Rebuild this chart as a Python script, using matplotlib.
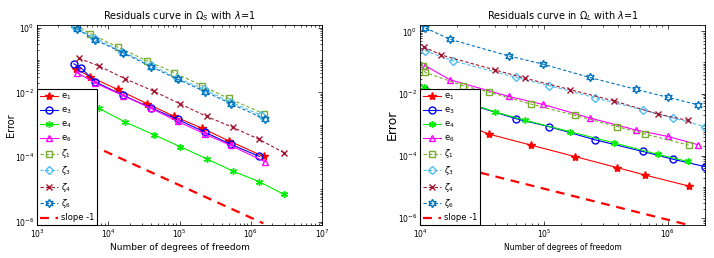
import matplotlib
matplotlib.use("Agg")
import matplotlib.pyplot as plt
from matplotlib.ticker import FixedLocator, LogLocator, LogFormatterSciNotation, NullFormatter

# ---- left plot (Omega_S) ----
xL_1 = [3.5e3, 5.6e3, 1.35e4, 3.55e4, 8.5e4, 2.04e5, 4.9e5, 1.51e6]
zeta1_L = [1.17, 0.65, 0.25, 0.093, 0.040, 0.0162, 0.0065, 0.0022]
e1_L = [0.054, 0.030, 0.0123, 0.0044, 0.0018, 7.9e-4, 3.2e-4, 1.05e-4]

xL_3 = [3.4e3, 6.3e3, 1.58e4, 4.0e4, 9.3e4, 2.24e5, 5.1e5, 1.38e6]
zeta3_L = [1.05, 0.49, 0.18, 0.069, 0.028, 0.0123, 0.0051, 0.0020]
xL_e3 = [3.3e3, 4.1e3, 6.6e3, 1.62e4, 4.0e4, 9.5e4, 2.3e5, 5.2e5, 1.32e6]
e3_L = [0.076, 0.058, 0.021, 0.0081, 0.0033, 0.00145, 5.8e-4, 2.5e-4, 1.05e-4]

xL_4 = [3.9e3, 7.4e3, 1.74e4, 4.4e4, 1.02e5, 2.4e5, 5.6e5, 1.32e6, 2.9e6]
zeta4_L = [0.112, 0.065, 0.026, 0.0107, 0.0044, 0.0018, 8.3e-4, 3.5e-4, 1.38e-4]
e4_L = [0.006, 0.0032, 0.0012, 4.9e-4, 2.1e-4, 8.9e-5, 3.7e-5, 1.74e-5, 7.1e-6]

xL_6 = [3.7e3, 6.5e3, 1.62e4, 4.0e4, 9.5e4, 2.3e5, 5.2e5, 1.58e6]
zeta6_L = [0.89, 0.42, 0.166, 0.062, 0.025, 0.0105, 0.0045, 0.0015]
e6_L = [0.040, 0.0195, 0.0079, 0.0032, 0.00126, 5.1e-4, 2.3e-4, 7.2e-5]

slope_xL = [3.5e3, 1.5e6]
slope_yL = [3.9e-4, 9e-7]

# ---- right plot (Omega_L) ----
xR_1 = [1.05e4, 1.1e4, 2.24e4, 3.6e4, 7.9e4, 1.78e5, 3.9e5, 6.6e5, 1.48e6]
zeta1_R = [0.078, 0.048, 0.0178, 0.0112, 0.0046, 0.0020, 8.7e-4, 5.0e-4, 2.2e-4]
e1_R = [0.0032, 0.0030, 0.00107, 5.0e-4, 2.2e-4, 9.5e-5, 4.2e-5, 2.4e-5, 1.07e-5]

xR_3 = [1.1e4, 1.86e4, 6.0e4, 1.1e5, 2.57e5, 6.3e5, 1.1e6, 2.0e6]
zeta3_R = [0.24, 0.112, 0.033, 0.018, 0.0074, 0.0030, 0.00166, 8.7e-4]
e3_R = [0.0135, 0.0066, 0.00155, 8.7e-4, 3.3e-4, 1.38e-4, 7.8e-5, 4.5e-5]

xR_4 = [1.07e4, 1.48e4, 4.0e4, 7.1e4, 1.62e5, 3.7e5, 8.3e5, 1.45e6]
zeta4_R = [0.32, 0.174, 0.058, 0.031, 0.0135, 0.0058, 0.0022, 0.00138]
e4_R = [0.0166, 0.010, 0.0026, 0.00138, 6.0e-4, 2.6e-4, 1.12e-4, 6.6e-5]

xR_6 = [1.1e4, 1.74e4, 5.2e4, 9.8e4, 2.34e5, 5.5e5, 1.0e6, 1.74e6]
zeta6_R = [1.29, 0.56, 0.162, 0.089, 0.033, 0.0138, 0.0076, 0.0044]
e6_R = [0.079, 0.028, 0.0081, 0.0045, 0.00166, 6.8e-4, 4.2e-4, 2.3e-4]

slope_xR = [1e4, 1.5e6]
slope_yR = [8.8e-5, 5.9e-7]

ytick_vals = [1e-6, 1e-4, 1e-2, 1e0]

hexagram = (6, 1, 0)
asterisk = (6, 2, 0)


def draw(ax, d, title, xlim, ylim):
    ax.plot(d["x1"], d["e1"], color="#ff0000", lw=0.8, marker="*", ms=6, label="e$_1$")
    ax.plot(d["x3e"], d["e3"], color="#0000ff", lw=0.8, marker="o", ms=5, mfc="none", label="e$_3$")
    ax.plot(d["x4"], d["e4"], color="#00ee00", lw=0.8, marker=asterisk, ms=5, label="e$_4$")
    ax.plot(d["x6"], d["e6"], color="#ff00ff", lw=0.8, marker="^", ms=5, mfc="none", label="e$_6$")
    ax.plot(d["x1"], d["z1"], color="#77ac30", lw=0.8, ls="--", dashes=(3, 2), marker="s", ms=4.5, mfc="none", label=r"$\zeta_1$")
    ax.plot(d["x3"], d["z3"], color="#4dbeee", lw=0.8, ls="--", dashes=(3, 2), marker="D", ms=4.5, mfc="none", label=r"$\zeta_3$")
    ax.plot(d["x4"], d["z4"], color="#a2142f", lw=0.8, ls="--", dashes=(3, 2), marker="x", ms=4, label=r"$\zeta_4$")
    ax.plot(d["x6"], d["z6"], color="#0072bd", lw=0.8, ls="--", dashes=(3, 2), marker=hexagram, ms=6, mfc="none", label=r"$\zeta_6$")
    ax.plot(d["sx"], d["sy"], color="#ff0000", lw=1.6, ls="--", dashes=(4, 3), label="slope -1")
    ax.set_xscale("log")
    ax.set_yscale("log")
    ax.set_xlim(xlim)
    ax.set_ylim(ylim)
    # labels only on every second decade, like the original
    ax.yaxis.set_major_locator(FixedLocator(ytick_vals))
    ax.yaxis.set_major_formatter(LogFormatterSciNotation())
    ax.yaxis.set_minor_locator(LogLocator(base=10, subs=range(1, 10), numticks=30))
    ax.yaxis.set_minor_formatter(NullFormatter())
    ax.set_title(title, fontsize=7, pad=4)
    ax.tick_params(which="both", direction="in", top=True, right=True, labelsize=5.5, width=0.5)
    ax.tick_params(which="major", length=3, pad=2)
    ax.tick_params(which="minor", length=1.5)
    for s in ax.spines.values():
        s.set_linewidth(0.6)
    leg = ax.legend(loc="lower left", fontsize=6, borderaxespad=0, fancybox=False,
                    framealpha=1, edgecolor="black", handlelength=2.2,
                    labelspacing=0.42, borderpad=0.3, handletextpad=0.4)
    leg.get_frame().set_linewidth(0.8)


fig = plt.figure(figsize=(7.14, 2.58), dpi=100)
axL = fig.add_axes([37 / 714, 33 / 258, 285 / 714, 200 / 258])
axR = fig.add_axes([420 / 714, 33 / 258, 285 / 714, 200 / 258])

dL = dict(x1=xL_1, e1=e1_L, z1=zeta1_L, x3=xL_3, x3e=xL_e3, e3=e3_L, z3=zeta3_L,
          x4=xL_4, e4=e4_L, z4=zeta4_L, x6=xL_6, e6=e6_L, z6=zeta6_L, sx=slope_xL, sy=slope_yL)
dR = dict(x1=xR_1, e1=e1_R, z1=zeta1_R, x3=xR_3, x3e=xR_3, e3=e3_R, z3=zeta3_R,
          x4=xR_4, e4=e4_R, z4=zeta4_R, x6=xR_6, e6=e6_R, z6=zeta6_R, sx=slope_xR, sy=slope_yR)

draw(axL, dL, r"Residuals curve in $\Omega_S$ with $\lambda$=1", (1e3, 1e7), (8e-7, 1.2))
draw(axR, dR, r"Residuals curve in $\Omega_L$ with $\lambda$=1", (1e4, 2e6), (6e-7, 1.6))

axL.set_xlabel("Number of degrees of freedom", fontsize=6.5)
axL.set_ylabel("Error", fontsize=7)
axR.set_xlabel("Number of degrees of freedom", fontsize=5.5)
axR.set_ylabel("Error", fontsize=9)
for ax in (axL, axR):
    ax.yaxis.set_label_coords(-0.075, 0.5)
    ax.xaxis.set_label_coords(0.5, -0.09)

fig.savefig("out.png", dpi=100)
